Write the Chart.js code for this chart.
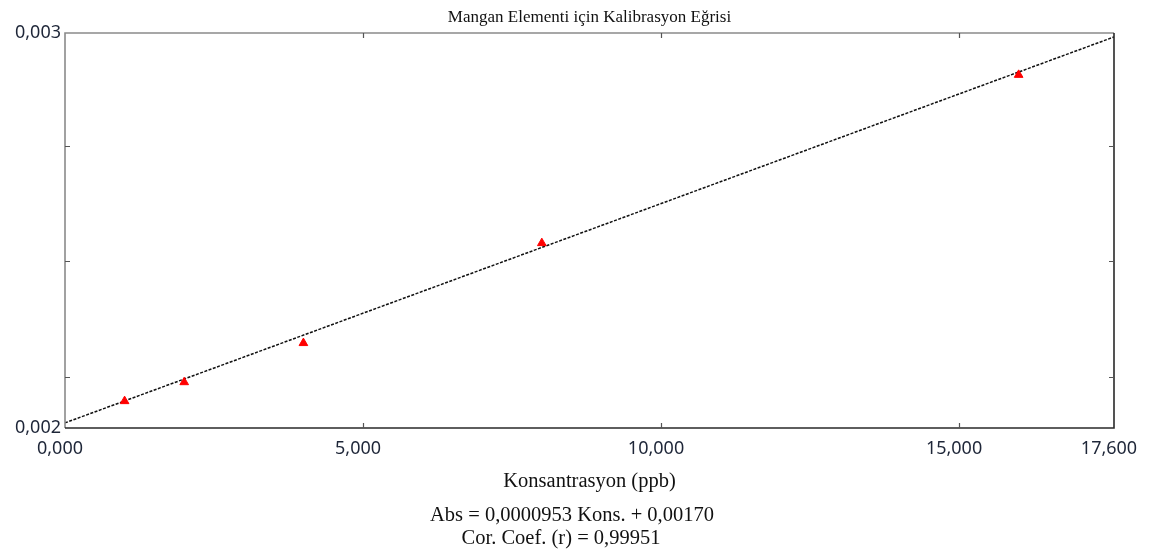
<!DOCTYPE html>
<html>
<head>
<meta charset="utf-8">
<script src="https://cdn.jsdelivr.net/npm/chart.js@4.4.1/dist/chart.umd.min.js"></script>
<style>
  html, body { margin: 0; padding: 0; background: #fff; }
  #wrap { width: 1149px; height: 556px; }
</style>
</head>
<body>
<div id="wrap"><canvas id="stage" width="1149" height="556"></canvas></div>
<script>
// kalibrasyon noktalari (okunan degerler)
const standardX = [1, 2, 4, 8, 16];
const standardY = [0.002068, 0.002116, 0.002215, 0.002468, 0.002894];

// egri (cizilen dogrunun uclari)
const fitX = [0, 17.6];
const fitY = [0.002013, 0.00299];

const xTickValues = [0, 5, 10, 15, 17.6];
const xTickLabels = ['0,000', '5,000', '10,000', '15,000', '17,600'];
const yTickValues = [0.002, 0.00213, 0.002424, 0.002715, 0.003];
const yTickLabels = ['0,002', '', '', '', '0,003'];

const titleText = 'Mangan Elementi için Kalibrasyon Eğrisi';
const xTitle = 'Konsantrasyon (ppb)';
const equationLines = ['Abs = 0,0000953 Kons. + 0,00170', 'Cor. Coef. (r) = 0,99951'];

const serif = '"Liberation Serif", "DejaVu Serif", serif';
const sans = '"Noto Sans", "Open Sans", sans-serif';

var pts = [];
for (var i = 0; i < standardX.length; i++) pts.push({x: standardX[i], y: standardY[i]});
var fit = [];
for (var i = 0; i < fitX.length; i++) fit.push({x: fitX[i], y: fitY[i]});

// cerceve ve ice dogru tick isaretleri
const framePlugin = {
  id: 'frame',
  afterDatasetsDraw(chart) {
    const ctx = chart.ctx;
    const a = chart.chartArea;
    const xs = chart.scales.x, ys = chart.scales.y;
    ctx.save();
    ctx.lineWidth = 1.6;
    ctx.strokeStyle = '#8a8a8a';
    ctx.beginPath();
    ctx.moveTo(a.left, a.bottom); ctx.lineTo(a.left, a.top); ctx.lineTo(a.right, a.top);
    ctx.stroke();
    ctx.strokeStyle = '#2a2a2a';
    ctx.beginPath();
    ctx.moveTo(a.left, a.bottom); ctx.lineTo(a.right, a.bottom); ctx.lineTo(a.right, a.top);
    ctx.stroke();

    ctx.lineWidth = 1.2;
    ctx.strokeStyle = '#555';
    ctx.beginPath();
    for (var v of xTickValues) {
      if (v <= xs.min || v >= xs.max) continue;
      var px = Math.round(xs.getPixelForValue(v)) + 0.5;
      ctx.moveTo(px, a.bottom); ctx.lineTo(px, a.bottom - 5);
      ctx.moveTo(px, a.top); ctx.lineTo(px, a.top + 5);
    }
    for (var v of yTickValues) {
      if (v <= ys.min || v >= ys.max) continue;
      var py = Math.round(ys.getPixelForValue(v)) + 0.5;
      ctx.moveTo(a.left, py); ctx.lineTo(a.left + 5, py);
      ctx.moveTo(a.right, py); ctx.lineTo(a.right - 5, py);
    }
    ctx.stroke();
    ctx.restore();
  },
  afterDraw(chart) {
    const ctx = chart.ctx;
    ctx.save();
    ctx.fillStyle = '#111';
    ctx.font = '20.5px ' + serif;
    ctx.textAlign = 'center';
    ctx.textBaseline = 'middle';
    ctx.fillText(equationLines[0], 572, 516);
    ctx.fillText(equationLines[1], 561, 539);
    ctx.restore();
  }
};

var chart = new Chart(document.getElementById('stage'), {
  type: 'scatter',
  data: {
    datasets: [{
      data: pts,
      pointStyle: 'triangle',
      pointRadius: 5,
      backgroundColor: '#ff0000',
      borderColor: '#ff0000',
      borderWidth: 1,
      order: 0
    }, {
      data: fit,
      showLine: true,
      pointRadius: 0,
      borderColor: '#111',
      borderWidth: 1.5,
      borderDash: [3, 1.5],
      order: 1
    }]
  },
  options: {
    responsive: false,
    animation: false,
    devicePixelRatio: 1,
    layout: { padding: { left: 0, right: 35, top: 0, bottom: 61.7 } },
    plugins: {
      legend: { display: false },
      tooltip: { enabled: false },
      title: {
        display: true,
        text: titleText,
        fullSize: false,
        color: '#111',
        font: { family: serif, size: 17, weight: 'normal' },
        padding: { top: 7.5, bottom: 5.1 }
      }
    },
    scales: {
      x: {
        type: 'linear',
        min: 0,
        max: 17.6,
        afterBuildTicks: function(s) { s.ticks = xTickValues.map(v => ({value: v})); },
        afterFit: function(s) { s.height = 66.3; s.paddingLeft = 0; s.paddingRight = 0; },
        grid: { display: false, drawTicks: false },
        border: { display: false },
        ticks: {
          autoSkip: false,
          maxRotation: 0,
          padding: 10,
          labelOffset: -5,
          color: '#1e2638',
          font: { family: sans, size: 18 },
          callback: function(v, i) { return xTickLabels[i]; }
        },
        title: {
          display: true,
          text: xTitle,
          color: '#111',
          font: { family: serif, size: 20.5 },
          padding: { top: 0, bottom: 0 }
        }
      },
      y: {
        min: 0.002,
        max: 0.003,
        afterBuildTicks: function(s) { s.ticks = yTickValues.map(v => ({value: v})); },
        afterFit: function(s) { s.width = 65; s.paddingTop = 0; s.paddingBottom = 0; },
        grid: { display: false, drawTicks: false },
        border: { display: false },
        ticks: {
          autoSkip: false,
          padding: 4,
          color: '#1e2638',
          font: { family: sans, size: 18 },
          callback: function(v, i) { return yTickLabels[i]; }
        }
      }
    }
  },
  plugins: [framePlugin]
});
</script>
</body>
</html>
